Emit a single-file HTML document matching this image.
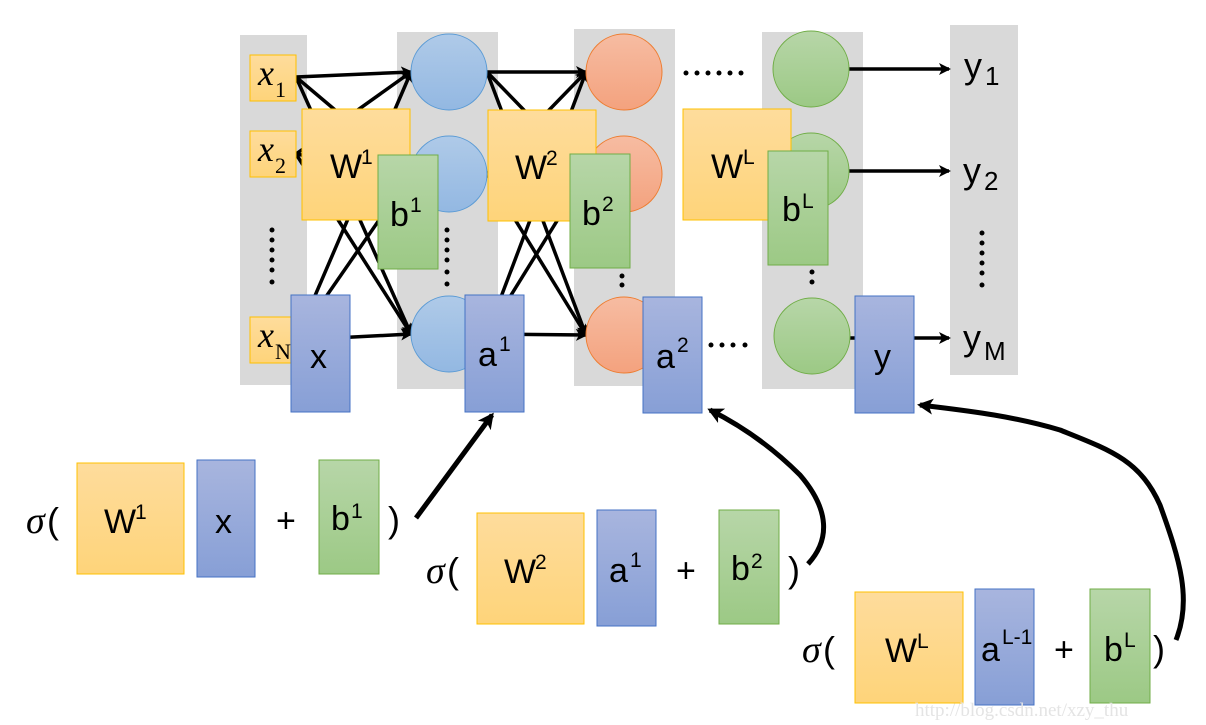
<!DOCTYPE html>
<html><head><meta charset="utf-8"><style>
html,body{margin:0;padding:0;background:#fff;}
svg{display:block;}
text{font-family:"Liberation Sans",sans-serif;fill:#000;}
.s{font-size:21px;}
.xi{font-family:"Liberation Serif",serif;font-size:36px;font-style:italic;}
.xs{font-family:"Liberation Serif",serif;font-size:22px;font-style:normal;}
</style></head><body>
<svg width="1206" height="725" viewBox="0 0 1206 725" xmlns="http://www.w3.org/2000/svg">
<defs>
<linearGradient id="gy" x1="0" y1="0" x2="0" y2="1"><stop offset="0" stop-color="#fedc9c"/><stop offset="1" stop-color="#fed47a"/></linearGradient>
<linearGradient id="gb" x1="0" y1="0" x2="0" y2="1"><stop offset="0" stop-color="#a8b5de"/><stop offset="1" stop-color="#879fd6"/></linearGradient>
<linearGradient id="gg" x1="0" y1="0" x2="0" y2="1"><stop offset="0" stop-color="#b7d6a8"/><stop offset="1" stop-color="#9cc985"/></linearGradient>
<linearGradient id="gc" x1="0" y1="0" x2="0" y2="1"><stop offset="0" stop-color="#afcae8"/><stop offset="1" stop-color="#93b8e2"/></linearGradient>
<linearGradient id="go" x1="0" y1="0" x2="0" y2="1"><stop offset="0" stop-color="#f6bca2"/><stop offset="1" stop-color="#f4a27e"/></linearGradient>
<marker id="ah" markerWidth="12" markerHeight="12" refX="10" refY="6" orient="auto" markerUnits="userSpaceOnUse"><path d="M0,0 L12,6 L0,12 L3,6 z" fill="#000"/></marker>
<marker id="ah2" markerWidth="16" markerHeight="16" refX="13" refY="8" orient="auto" markerUnits="userSpaceOnUse"><path d="M0,0 L16,8 L0,16 L4,8 z" fill="#000"/></marker>
</defs>

<rect x="240" y="35" width="67" height="350" fill="#d9d9d9"/>
<rect x="397" y="32" width="101" height="357" fill="#d9d9d9"/>
<rect x="574" y="29" width="101" height="357" fill="#d9d9d9"/>
<rect x="762" y="32" width="101" height="357" fill="#d9d9d9"/>
<rect x="950" y="25" width="68" height="350" fill="#d9d9d9"/>

<g stroke="#000" stroke-width="3.5" marker-end="url(#ah)">
<line x1="296" y1="77" x2="411" y2="72"/><line x1="296" y1="77" x2="411" y2="174"/><line x1="296" y1="77" x2="411" y2="334"/>
<line x1="296" y1="154" x2="411" y2="72"/><line x1="296" y1="154" x2="411" y2="174"/><line x1="296" y1="154" x2="411" y2="334"/>
<line x1="296" y1="340" x2="411" y2="72"/><line x1="296" y1="340" x2="411" y2="174"/><line x1="296" y1="340" x2="411" y2="334"/>
<line x1="487" y1="72" x2="586" y2="72"/><line x1="487" y1="72" x2="586" y2="174"/><line x1="487" y1="72" x2="586" y2="335"/>
<line x1="487" y1="174" x2="586" y2="72"/><line x1="487" y1="174" x2="586" y2="174"/><line x1="487" y1="174" x2="586" y2="335"/>
<line x1="487" y1="334" x2="586" y2="72"/><line x1="487" y1="334" x2="586" y2="174"/><line x1="487" y1="334" x2="586" y2="335"/>
<line x1="849" y1="69" x2="949" y2="69"/><line x1="849" y1="171" x2="949" y2="171"/><line x1="849" y1="338" x2="949" y2="338"/>
</g>

<g fill="url(#gy)" stroke="#ffc000" stroke-width="1">
<rect x="250" y="55" width="46" height="46"/><rect x="250" y="131" width="46" height="46"/><rect x="250" y="317" width="46" height="46"/>
</g>
<text x="258" y="85" class="xi">x</text><text x="275" y="97" class="xs">1</text>
<text x="258" y="161" class="xi">x</text><text x="275" y="173" class="xs">2</text>
<text x="258" y="347" class="xi">x</text><text x="275" y="359" class="xs">N</text>

<g fill="url(#gc)" stroke="#5b9bd5"><circle cx="449" cy="72" r="38"/><circle cx="449" cy="174" r="38"/><circle cx="449" cy="334" r="38"/></g>
<g fill="url(#go)" stroke="#ed7d31"><circle cx="624" cy="72" r="38"/><circle cx="624" cy="174" r="38"/><circle cx="624" cy="335" r="38"/></g>
<g fill="url(#gg)" stroke="#70ad47"><circle cx="811" cy="69" r="38"/><circle cx="811" cy="171" r="38"/><circle cx="812" cy="336" r="38"/></g>

<g fill="#000">
<circle cx="272" cy="230" r="2.5"/><circle cx="272" cy="240" r="2.5"/><circle cx="272" cy="250" r="2.5"/><circle cx="272" cy="260" r="2.5"/><circle cx="272" cy="270" r="2.5"/><circle cx="272" cy="282" r="2.5"/>
<circle cx="447" cy="230" r="2.5"/><circle cx="447" cy="240" r="2.5"/><circle cx="447" cy="250" r="2.5"/><circle cx="447" cy="260" r="2.5"/><circle cx="447" cy="272" r="2.5"/><circle cx="447" cy="284" r="2.5"/>
<circle cx="622" cy="276" r="2.5"/><circle cx="622" cy="285" r="2.5"/>
<circle cx="812" cy="272" r="2.5"/><circle cx="812" cy="282" r="2.5"/>
<circle cx="982" cy="233" r="2.5"/><circle cx="982" cy="243" r="2.5"/><circle cx="982" cy="253" r="2.5"/><circle cx="982" cy="263" r="2.5"/><circle cx="982" cy="273" r="2.5"/><circle cx="982" cy="285" r="2.5"/>
<circle cx="686" cy="73" r="2.5"/><circle cx="697" cy="73" r="2.5"/><circle cx="708" cy="73" r="2.5"/><circle cx="719" cy="73" r="2.5"/><circle cx="730" cy="73" r="2.5"/><circle cx="741" cy="73" r="2.5"/>
<circle cx="711" cy="345" r="2.5"/><circle cx="722" cy="345" r="2.5"/><circle cx="733" cy="345" r="2.5"/><circle cx="745" cy="345" r="2.5"/>
</g>

<text x="964" y="78" style="font-size:36px">y</text><text x="985" y="85" style="font-size:26px">1</text>
<text x="963" y="183" style="font-size:36px">y</text><text x="984" y="190" style="font-size:26px">2</text>
<text x="963" y="350" style="font-size:36px">y</text><text x="984" y="360" style="font-size:26px">M</text>

<rect x="302" y="109" width="108" height="111" fill="url(#gy)" stroke="#ffc000"/>
<text x="330" y="178" style="font-size:34px">W</text><text x="361" y="164" class="s">1</text>
<rect x="378" y="155" width="60" height="114" fill="url(#gg)" stroke="#70ad47"/>
<text x="390" y="226" style="font-size:34px">b</text><text x="410" y="212" class="s">1</text>
<rect x="291" y="295" width="59" height="117" fill="url(#gb)" stroke="#4472c4"/>
<text x="310" y="368" style="font-size:34px">x</text>
<rect x="465" y="295" width="59" height="117" fill="url(#gb)" stroke="#4472c4"/>
<text x="478" y="366" style="font-size:34px">a</text><text x="499" y="351" class="s">1</text>

<rect x="488" y="110" width="108" height="111" fill="url(#gy)" stroke="#ffc000"/>
<text x="515" y="179" style="font-size:34px">W</text><text x="546" y="165" class="s">2</text>
<rect x="570" y="154" width="60" height="114" fill="url(#gg)" stroke="#70ad47"/>
<text x="582" y="225" style="font-size:34px">b</text><text x="602" y="211" class="s">2</text>
<rect x="643" y="297" width="59" height="116" fill="url(#gb)" stroke="#4472c4"/>
<text x="656" y="368" style="font-size:34px">a</text><text x="677" y="352" class="s">2</text>

<rect x="683" y="109" width="108" height="111" fill="url(#gy)" stroke="#ffc000"/>
<text x="711" y="178" style="font-size:34px">W</text><text x="743" y="164" class="s">L</text>
<rect x="768" y="151" width="60" height="114" fill="url(#gg)" stroke="#70ad47"/>
<text x="782" y="221" style="font-size:34px">b</text><text x="802" y="208" class="s">L</text>
<rect x="855" y="296" width="59" height="117" fill="url(#gb)" stroke="#4472c4"/>
<text x="874" y="368" style="font-size:34px">y</text>

<text x="26" y="533" style="font-size:38px;font-style:italic;font-family:'Liberation Serif',serif">σ</text><text x="47" y="533" style="font-size:36px">(</text>
<rect x="77" y="463" width="107" height="111" fill="url(#gy)" stroke="#ffc000"/>
<text x="104" y="533" style="font-size:34px">W</text><text x="135" y="519" class="s">1</text>
<rect x="197" y="460" width="58" height="117" fill="url(#gb)" stroke="#4472c4"/>
<text x="215" y="533" style="font-size:34px">x</text>
<text x="276" y="532" style="font-size:34px">+</text>
<rect x="319" y="460" width="60" height="114" fill="url(#gg)" stroke="#70ad47"/>
<text x="331" y="530" style="font-size:34px">b</text><text x="351" y="518" class="s">1</text>
<text x="388" y="532" style="font-size:36px">)</text>

<text x="426" y="583" style="font-size:38px;font-style:italic;font-family:'Liberation Serif',serif">σ</text><text x="447" y="583" style="font-size:36px">(</text>
<rect x="477" y="513" width="107" height="111" fill="url(#gy)" stroke="#ffc000"/>
<text x="504" y="583" style="font-size:34px">W</text><text x="535" y="569" class="s">2</text>
<rect x="597" y="510" width="59" height="116" fill="url(#gb)" stroke="#4472c4"/>
<text x="609" y="582" style="font-size:34px">a</text><text x="630" y="567" class="s">1</text>
<text x="676" y="582" style="font-size:34px">+</text>
<rect x="719" y="510" width="60" height="114" fill="url(#gg)" stroke="#70ad47"/>
<text x="731" y="580" style="font-size:34px">b</text><text x="751" y="568" class="s">2</text>
<text x="788" y="582" style="font-size:36px">)</text>

<text x="802" y="662" style="font-size:38px;font-style:italic;font-family:'Liberation Serif',serif">σ</text><text x="823" y="662" style="font-size:36px">(</text>
<rect x="855" y="592" width="108" height="111" fill="url(#gy)" stroke="#ffc000"/>
<text x="885" y="662" style="font-size:34px">W</text><text x="917" y="648" class="s">L</text>
<rect x="975" y="589" width="59" height="116" fill="url(#gb)" stroke="#4472c4"/>
<text x="981" y="661" style="font-size:34px">a</text><text x="1002" y="644" class="s">L-1</text>
<text x="1054" y="661" style="font-size:34px">+</text>
<rect x="1090" y="589" width="60" height="114" fill="url(#gg)" stroke="#70ad47"/>
<text x="1104" y="661" style="font-size:34px">b</text><text x="1124" y="647" class="s">L</text>
<text x="1153" y="661" style="font-size:36px">)</text>

<g stroke="#000" stroke-width="5" fill="none" marker-end="url(#ah2)">
<path d="M416,518 L492,415"/>
<path d="M808,564 C830,540 830,510 800,475 C770,445 740,425 710,410"/>
<path d="M1176,640 C1192,600 1180,560 1160,505 C1140,460 1110,450 1060,430 C1010,415 960,410 920,405"/>
</g>

<text x="915" y="716" style="font-family:'Liberation Serif',serif;font-size:19px;fill:#e4e4e4">http://blog.csdn.net/xzy_thu</text>
</svg>
</body></html>
